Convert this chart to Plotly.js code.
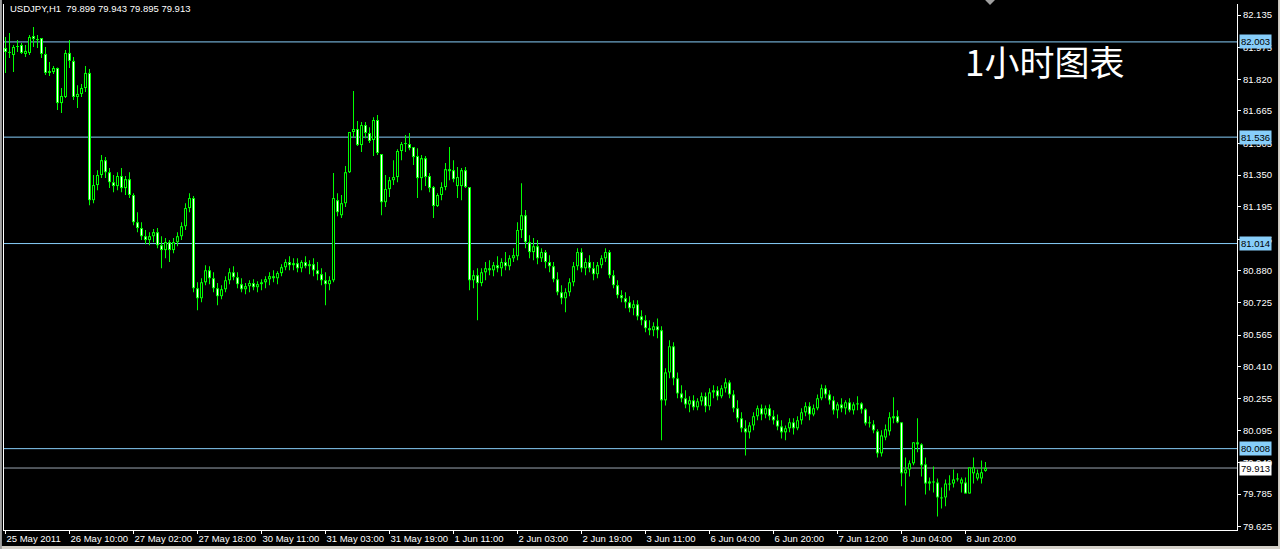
<!DOCTYPE html>
<html>
<head>
<meta charset="utf-8">
<script src="https://cdn.plot.ly/plotly-3.0.1.min.js"></script>
<style>
html,body{margin:0;padding:0;background:#000;}
#chart{width:1280px;height:549px;}
</style>
</head>
<body>
<div id="chart"></div>
<script>
// USDJPY H1 bars (index 0 = 25 May 2011, one bar per hour)
const open = [
81.973,81.954,81.939,81.978,81.988,81.944,81.949,82.032,82.017,82.022,
81.944,81.860,81.855,81.875,81.703,81.733,81.949,81.910,81.733,81.748,
81.777,81.851,81.227,81.301,81.350,81.423,81.364,81.315,81.296,81.345,
81.286,81.330,81.252,81.119,81.090,81.050,81.031,81.050,81.070,81.006,
80.982,81.021,80.982,81.021,81.050,81.099,81.188,81.237,80.795,80.746,
80.824,80.883,80.844,80.795,80.756,80.790,80.834,80.873,80.849,80.815,
80.790,80.805,80.820,80.800,80.815,80.824,80.839,80.854,80.844,80.869,
80.898,80.923,80.908,80.918,80.893,80.923,80.903,80.913,80.883,80.864,
80.834,80.815,80.834,81.227,81.153,81.212,81.364,81.561,81.576,81.497,
81.595,81.556,81.522,81.620,81.453,81.217,81.281,81.325,81.340,81.468,
81.502,81.502,81.487,81.443,81.335,81.433,81.345,81.291,81.198,81.252,
81.291,81.369,81.374,81.296,81.296,81.374,81.291,80.834,80.859,80.820,
80.873,80.893,80.883,80.908,80.893,80.923,80.903,80.942,80.952,81.080,
81.153,81.021,80.972,81.001,80.942,80.972,80.923,80.903,80.839,80.775,
80.746,80.775,80.824,80.903,80.972,80.893,80.923,80.893,80.864,80.908,
80.942,80.972,80.859,80.810,80.761,80.746,80.726,80.697,80.716,80.657,
80.638,80.599,80.589,80.608,80.589,80.245,80.382,80.510,80.353,80.279,
80.255,80.225,80.245,80.211,80.240,80.265,80.216,80.284,80.294,80.265,
80.304,80.333,80.274,80.206,80.157,80.108,80.088,80.122,80.167,80.206,
80.176,80.206,80.167,80.147,80.117,80.088,80.108,80.137,80.108,80.147,
80.186,80.216,80.176,80.206,80.255,80.304,80.274,80.245,80.196,80.225,
80.206,80.235,80.196,80.225,80.230,80.201,80.132,80.127,80.093,79.985,
80.063,80.093,80.157,80.167,80.137,79.887,79.906,79.936,80.039,80.029,
79.931,79.837,79.847,79.842,79.769,79.769,79.837,79.837,79.857,79.837,
79.842,79.788,79.887,79.862,79.862,79.899
];
const high = [
82.027,82.047,81.988,82.012,81.998,81.988,82.037,82.076,82.037,82.022,
81.978,81.905,81.885,81.877,81.777,81.963,82.013,81.929,81.791,81.797,
81.885,81.870,81.350,81.374,81.448,81.438,81.384,81.350,81.364,81.384,
81.345,81.364,81.261,81.168,81.119,81.080,81.070,81.085,81.090,81.050,
81.041,81.031,81.041,81.070,81.119,81.212,81.261,81.247,80.824,80.844,
80.908,80.903,80.873,80.820,80.810,80.854,80.893,80.903,80.873,80.844,
80.820,80.834,80.839,80.829,80.839,80.854,80.873,80.883,80.878,80.913,
80.937,80.952,80.942,80.942,80.932,80.952,80.932,80.942,80.923,80.893,
80.873,80.854,81.360,81.261,81.252,81.394,81.561,81.762,81.615,81.610,
81.610,81.585,81.634,81.644,81.453,81.350,81.340,81.423,81.477,81.512,
81.546,81.556,81.487,81.482,81.448,81.443,81.360,81.296,81.261,81.315,
81.409,81.487,81.423,81.389,81.384,81.389,81.291,80.883,80.893,80.893,
80.923,80.932,80.923,80.952,80.942,80.972,80.957,80.991,81.119,81.310,
81.178,81.055,81.041,81.031,80.991,80.982,80.957,80.923,80.873,80.810,
80.795,80.844,80.923,80.991,80.991,80.942,80.957,80.923,80.923,80.957,
80.991,80.982,80.883,80.834,80.785,80.775,80.756,80.736,80.736,80.687,
80.662,80.638,80.628,80.647,80.608,80.402,80.540,80.530,80.382,80.319,
80.294,80.265,80.270,80.255,80.284,80.284,80.304,80.319,80.314,80.319,
80.353,80.343,80.294,80.245,80.186,80.147,80.137,80.186,80.220,80.225,
80.220,80.225,80.196,80.176,80.147,80.122,80.157,80.157,80.167,80.206,
80.235,80.235,80.225,80.274,80.323,80.319,80.294,80.265,80.235,80.255,
80.245,80.255,80.235,80.265,80.235,80.206,80.167,80.147,80.103,80.098,
80.127,80.186,80.260,80.196,80.137,79.965,79.950,80.039,80.157,80.034,
79.965,79.867,79.921,79.862,79.818,79.857,79.877,79.906,79.887,79.867,
79.867,79.916,79.965,79.906,79.950,79.943
];
const low = [
81.851,81.924,81.855,81.954,81.944,81.929,81.939,81.978,81.973,81.924,
81.841,81.836,81.846,81.669,81.654,81.728,81.875,81.718,81.679,81.733,
81.757,81.202,81.212,81.276,81.335,81.335,81.286,81.266,81.276,81.266,
81.252,81.237,81.104,81.070,81.031,81.011,81.006,81.021,80.991,80.893,
80.942,80.923,80.967,81.001,81.031,81.080,81.168,80.775,80.687,80.726,
80.810,80.815,80.775,80.711,80.741,80.775,80.815,80.834,80.795,80.775,
80.765,80.775,80.785,80.775,80.785,80.795,80.810,80.824,80.815,80.854,
80.883,80.883,80.883,80.873,80.873,80.893,80.864,80.854,80.834,80.810,
80.711,80.785,80.824,81.148,81.139,81.193,81.360,81.536,81.492,81.463,
81.531,81.507,81.443,81.448,81.153,81.193,81.242,81.301,81.315,81.423,
81.463,81.472,81.399,81.237,81.276,81.296,81.266,81.139,81.193,81.227,
81.276,81.325,81.315,81.237,81.227,81.286,80.785,80.795,80.638,80.805,
80.834,80.859,80.854,80.873,80.854,80.883,80.883,80.923,80.932,81.041,
80.991,80.942,80.932,80.913,80.923,80.893,80.873,80.824,80.761,80.716,
80.677,80.756,80.805,80.883,80.873,80.859,80.873,80.834,80.844,80.893,
80.923,80.844,80.795,80.746,80.726,80.697,80.677,80.662,80.638,80.613,
80.579,80.564,80.559,80.549,80.049,80.220,80.353,80.319,80.255,80.235,
80.206,80.186,80.196,80.196,80.220,80.186,80.196,80.255,80.245,80.255,
80.284,80.255,80.186,80.137,80.088,79.975,80.058,80.098,80.147,80.147,
80.157,80.147,80.127,80.098,80.058,80.049,80.088,80.078,80.098,80.127,
80.167,80.147,80.167,80.196,80.245,80.255,80.225,80.176,80.157,80.186,
80.176,80.186,80.176,80.196,80.181,80.122,80.112,80.083,79.965,79.970,
80.049,80.073,80.132,80.132,79.823,79.729,79.872,79.926,79.990,79.872,
79.783,79.803,79.793,79.675,79.715,79.725,79.803,79.818,79.847,79.793,
79.788,79.788,79.837,79.852,79.837,79.895
];
const close = [
81.954,81.949,81.978,81.983,81.949,81.959,82.027,82.017,82.012,81.944,
81.851,81.851,81.875,81.703,81.738,81.949,81.910,81.733,81.748,81.777,
81.851,81.227,81.301,81.350,81.423,81.364,81.315,81.296,81.345,81.286,
81.330,81.252,81.119,81.090,81.050,81.031,81.050,81.070,81.006,80.982,
81.021,80.982,81.021,81.050,81.099,81.188,81.237,80.795,80.746,80.824,
80.883,80.844,80.795,80.756,80.790,80.834,80.873,80.849,80.815,80.790,
80.805,80.820,80.800,80.815,80.824,80.839,80.854,80.844,80.869,80.898,
80.923,80.908,80.918,80.893,80.923,80.903,80.913,80.883,80.864,80.834,
80.815,80.834,81.237,81.168,81.212,81.364,81.561,81.576,81.497,81.595,
81.556,81.517,81.620,81.458,81.217,81.281,81.325,81.340,81.468,81.502,
81.507,81.482,81.438,81.335,81.433,81.340,81.286,81.198,81.252,81.291,
81.379,81.379,81.330,81.340,81.374,81.291,80.834,80.859,80.820,80.873,
80.893,80.883,80.908,80.893,80.923,80.903,80.942,80.957,81.080,81.153,
81.021,80.972,81.001,80.942,80.972,80.923,80.903,80.839,80.775,80.746,
80.775,80.824,80.903,80.972,80.893,80.923,80.893,80.864,80.908,80.942,
80.972,80.859,80.810,80.761,80.746,80.726,80.697,80.716,80.657,80.638,
80.599,80.589,80.608,80.589,80.245,80.382,80.510,80.353,80.279,80.255,
80.225,80.245,80.211,80.240,80.265,80.216,80.284,80.294,80.265,80.304,
80.333,80.274,80.206,80.157,80.108,80.088,80.122,80.167,80.206,80.176,
80.206,80.167,80.147,80.117,80.088,80.108,80.137,80.108,80.147,80.186,
80.216,80.176,80.206,80.255,80.304,80.274,80.245,80.196,80.225,80.206,
80.235,80.196,80.225,80.230,80.201,80.132,80.137,80.098,79.985,80.073,
80.103,80.162,80.167,80.137,79.887,79.906,79.936,80.039,80.029,79.926,
79.837,79.847,79.842,79.769,79.764,79.837,79.832,79.857,79.862,79.857,
79.788,79.916,79.916,79.887,79.892,79.913
];

// time axis labels (every 16 bars)
const timeLabels = ['25 May 2011','26 May 10:00','27 May 02:00','27 May 18:00','30 May 11:00',
  '31 May 03:00','31 May 19:00','1 Jun 11:00','2 Jun 03:00','2 Jun 19:00','3 Jun 11:00',
  '6 Jun 04:00','6 Jun 20:00','7 Jun 12:00','8 Jun 04:00','8 Jun 20:00'];
const labelStep = 16;

// price scale labels
const priceTicks = [82.135,81.975,81.820,81.665,81.505,81.350,81.195,81.035,80.880,
  80.725,80.565,80.410,80.255,80.095,79.940,79.785,79.625];

// horizontal lines
const hLines = [82.003,81.536,81.014,80.008];
const bidPrice = 79.913;

const symbol = 'USDJPY,H1';
const lastBar = [79.899,79.943,79.895,79.913];
const chartNote = '1小时图表';

// ---- derived arrays for drawing candles as bars ----
const YMIN = 79.609, YMAX = 82.189, PLOT_H = 526;
const px = (YMAX - YMIN) / PLOT_H;      // one pixel in price units
const idx = open.map((_, i) => i);
const bodyLo = open.map((o, i) => Math.min(o, close[i]));
const bodyH = open.map((o, i) => Math.max(Math.abs(close[i] - o), px));
const innerIdx = idx.filter(i => Math.abs(close[i] - open[i]) > 2.2 * px);
const tickIdx = timeLabels.map((_, i) => i * labelStep);

const FONT = 'Liberation Sans, Arial, sans-serif';
const lineBlue = '#87cefa';
const LIME = '#00ff00';

const wicks = {type:'bar', x:idx, base:low, y:high.map((h, i) => h - low[i]), width:0.25,
  marker:{color:LIME, line:{width:0}}, hoverinfo:'none'};
const bodies = {type:'bar', x:idx, base:bodyLo, y:bodyH, width:0.75,
  marker:{color:LIME, line:{width:0}}, hoverinfo:'none'};
const inner = {type:'bar', x:innerIdx, base:innerIdx.map(i => bodyLo[i] + px),
  y:innerIdx.map(i => Math.abs(close[i] - open[i]) - 2 * px), width:0.25,
  marker:{color:innerIdx.map(i => close[i] >= open[i] ? '#000000' : '#ffffff'), line:{width:0}},
  hoverinfo:'none'};

const shapes = hLines.map(v => ({type:'line', xref:'paper', x0:0, x1:1, yref:'y', y0:v, y1:v,
  line:{color:lineBlue, width:1}, layer:'below'}));
shapes.push({type:'line', xref:'paper', x0:0, x1:1, yref:'y', y0:bidPrice, y1:bidPrice,
  line:{color:'#9aa5b1', width:1}, layer:'below'});
// chart-shift marker at top
shapes.push({type:'path', xref:'paper', yref:'paper',
  path:'M 0.7957 1.0076 L 0.8037 1.0076 L 0.7997 0.998 Z', fillcolor:'#a0a0a0', line:{width:0}});
// window frame strips (bottom, left, right)
shapes.push({type:'rect', xref:'paper', yref:'paper', x0:-0.0033, x1:1.035, y0:-0.0365, y1:-0.0304,
  fillcolor:'#d4d0c8', line:{width:0}});
shapes.push({type:'rect', xref:'paper', yref:'paper', x0:-0.0033, x1:-0.0017, y0:-0.0365, y1:1.008,
  fillcolor:'#a0a0a0', line:{width:0}});
shapes.push({type:'rect', xref:'paper', yref:'paper', x0:1.0333, x1:1.035, y0:-0.0365, y1:1.008,
  fillcolor:'#d4d0c8', line:{width:0}});

const annotations = hLines.map(v => ({xref:'paper', x:1, xanchor:'left', xshift:2,
  yref:'y', y:v, yanchor:'middle', text:v.toFixed(3), showarrow:false,
  bgcolor:lineBlue, borderpad:1, font:{family:FONT, size:9.5, color:'#000'}}));
annotations.push({xref:'paper', x:1, xanchor:'left', xshift:2, yref:'y', y:bidPrice,
  yanchor:'middle', text:bidPrice.toFixed(3), showarrow:false, bgcolor:'#ffffff', borderpad:1,
  font:{family:FONT, size:9.5, color:'#000'}});
annotations.push({xref:'paper', x:0.0032, xanchor:'left', yref:'paper', y:0.992, yanchor:'middle',
  text: symbol + '\u00a0\u00a0' + lastBar.map(v => v.toFixed(3)).join(' '), showarrow:false,
  font:{family:FONT, size:9.5, color:'#ffffff'}});
annotations.push({xref:'paper', x:0.7775, xanchor:'left', yref:'paper', y:0.892, yanchor:'middle',
  text: chartNote, showarrow:false,
  font:{family:'Noto Sans CJK SC, sans-serif', size:35, color:'#ffffff'}});

const layout = {
  width:1280, height:549,
  margin:{l:4, r:43, t:4, b:19},
  paper_bgcolor:'#000000', plot_bgcolor:'#000000',
  showlegend:false, barmode:'overlay',
  xaxis:{range:[-0.375, 307.875], showgrid:false, zeroline:false,
    showline:true, linecolor:'#ffffff', linewidth:1,
    tickmode:'array', tickvals:tickIdx, ticktext:timeLabels, tickangle:0,
    ticks:'outside', ticklen:3, tickcolor:'#ffffff', ticklabelposition:'outside right',
    tickfont:{family:FONT, size:9.5, color:'#ffffff'}},
  yaxis:{range:[YMIN, YMAX], side:'right', showgrid:false, zeroline:false,
    showline:true, linecolor:'#ffffff', linewidth:1, mirror:true,
    tickmode:'array', tickvals:priceTicks, ticktext:priceTicks.map(v => v.toFixed(3)),
    ticks:'outside', ticklen:3, tickcolor:'#ffffff',
    tickfont:{family:FONT, size:9.5, color:'#ffffff'}},
  shapes:shapes, annotations:annotations
};

Plotly.newPlot('chart', [wicks, bodies, inner], layout, {staticPlot:true, displayModeBar:false});
</script>
</body>
</html>
